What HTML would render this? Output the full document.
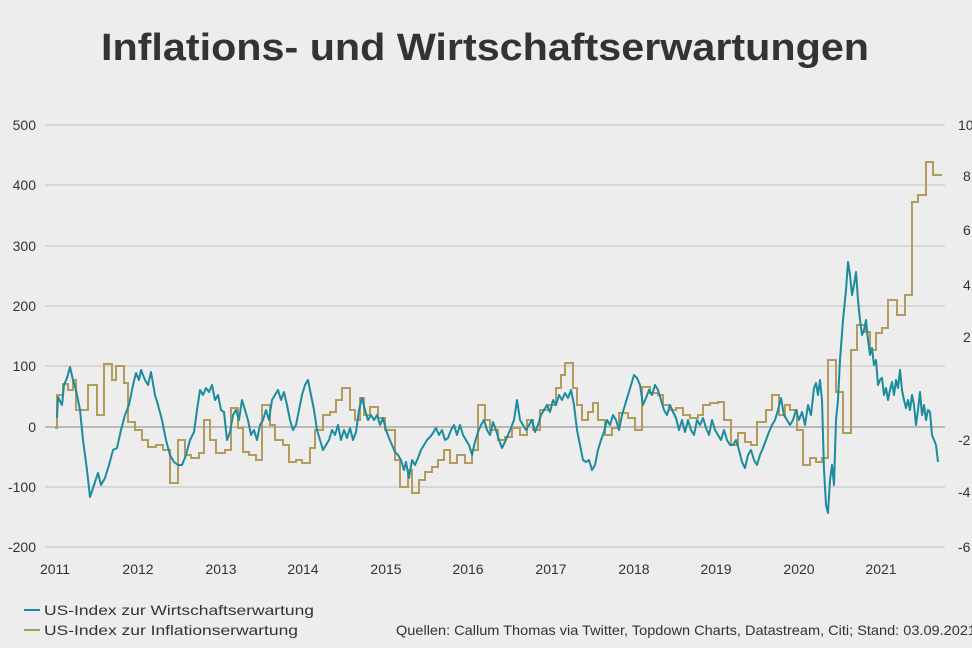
<!DOCTYPE html>
<html><head><meta charset="utf-8"><style>
html,body{margin:0;padding:0;background:#ededed;}
svg{display:block;font-family:"Liberation Sans",sans-serif;}
</style></head><body>
<svg width="972" height="648" viewBox="0 0 972 648" xmlns="http://www.w3.org/2000/svg">
<rect width="972" height="648" fill="#ededed"/>
<text x="485" y="60" text-anchor="middle" font-size="38" font-weight="bold" fill="#333" textLength="768" lengthAdjust="spacingAndGlyphs">Inflations- und Wirtschaftserwartungen</text>
<g stroke="#c9c9c9" stroke-width="1.2">
<line x1="45" y1="125" x2="945" y2="125"/><line x1="45" y1="185" x2="945" y2="185"/>
<line x1="45" y1="246" x2="945" y2="246"/><line x1="45" y1="306" x2="945" y2="306"/>
<line x1="45" y1="366" x2="945" y2="366"/><line x1="45" y1="487" x2="945" y2="487"/>
<line x1="45" y1="547" x2="945" y2="547"/>
</g>
<line x1="45" y1="427" x2="945" y2="427" stroke="#9a9a9a" stroke-width="1.3"/>
<g font-size="14" fill="#333" text-anchor="end">
<text x="36" y="130">500</text><text x="36" y="190">400</text><text x="36" y="251">300</text>
<text x="36" y="311">200</text><text x="36" y="371">100</text><text x="36" y="432">0</text>
<text x="36" y="492">-100</text><text x="36" y="552">-200</text>
</g>
<g font-size="14" fill="#333">
<text x="958" y="130">10</text><text x="963" y="181">8</text><text x="963" y="235">6</text>
<text x="963" y="290">4</text><text x="963" y="342">2</text><text x="958" y="445">-2</text>
<text x="958" y="497">-4</text><text x="958" y="552">-6</text>
</g>
<g font-size="14" fill="#333" text-anchor="middle">
<text x="55" y="574">2011</text><text x="138" y="574">2012</text><text x="221" y="574">2013</text>
<text x="303" y="574">2014</text><text x="386" y="574">2015</text><text x="468" y="574">2016</text>
<text x="551" y="574">2017</text><text x="634" y="574">2018</text><text x="716" y="574">2019</text>
<text x="799" y="574">2020</text><text x="881" y="574">2021</text>
</g>
<path fill="none" stroke="#b39b5c" stroke-width="2" d="M55,428 H57 V395 H63 V384 H68 V390 H73 V380 H76 V410 H88 V385 H97 V415 H104 V364 H112 V380 H116 V366 H124 V383 H128 V422 H135 V430 H142 V440 H148 V447 H156 V445 H163 V450 H170 V483 H178 V440 H185 V455 H191 V458 H199 V453 H204 V420 H210 V440 H216 V453 H225 V450 H231 V408 H238 V428 H243 V452 H249 V455 H256 V460 H262 V405 H270 V425 H275 V440 H283 V445 H289 V462 H296 V460 H302 V463 H310 V448 H315 V430 H323 V415 H330 V412 H336 V400 H342 V388 H350 V410 H355 V420 H360 V398 H364 V415 H370 V407 H378 V418 H385 V430 H395 V460 H400 V487 H408 V470 H412 V493 H419 V480 H425 V472 H432 V467 H438 V460 H444 V450 H450 V463 H457 V455 H465 V463 H472 V450 H478 V405 H485 V420 H490 V430 H498 V440 H505 V437 H512 V428 H520 V435 H527 V420 H533 V430 H540 V410 H548 V405 H556 V388 H561 V375 H565 V363 H573 V388 H577 V405 H582 V420 H588 V412 H593 V403 H598 V420 H605 V435 H612 V428 H619 V413 H628 V418 H635 V430 H642 V387 H650 V393 H658 V395 H663 V405 H669 V410 H676 V408 H683 V415 H690 V418 H698 V415 H703 V405 H710 V403 H718 V402 H724 V420 H731 V445 H738 V433 H745 V442 H751 V445 H757 V422 H766 V410 H772 V395 H779 V415 H785 V405 H790 V410 H797 V430 H803 V465 H810 V458 H816 V462 H822 V458 H828 V360 H836 V392 H843 V433 H851 V350 H857 V325 H865 V332 H870 V350 H876 V333 H882 V328 H888 V300 H897 V315 H905 V295 H912 V202 H918 V195 H926 V162 H933 V175 H942"/>
<polyline fill="none" stroke="#1b8c9e" stroke-width="2" stroke-linejoin="round" points="57,418 58,397 62,405 64,385 67,378 70,367 73,380 76,390 80,410 83,440 87,470 90,497 94,485 98,473 101,485 105,478 109,465 113,450 117,448 121,430 125,415 129,405 133,385 136,373 139,380 141,370 145,380 148,385 151,372 155,395 158,405 162,420 166,440 170,455 174,462 178,465 182,465 186,455 190,440 194,432 197,410 200,390 203,395 206,388 209,392 212,385 215,400 218,395 221,410 224,412 227,440 230,432 233,415 236,410 239,420 242,400 245,410 248,420 251,435 254,430 257,440 260,425 263,420 266,410 269,420 272,400 275,395 278,390 281,400 284,392 287,405 290,420 293,430 296,425 299,410 302,395 305,385 308,380 311,395 314,410 317,430 320,440 323,450 326,445 329,440 332,430 335,435 338,425 341,440 344,430 347,438 350,428 353,440 356,432 359,410 362,398 365,410 368,420 371,415 374,420 377,415 380,425 383,418 386,430 389,438 392,445 395,452 398,455 401,460 404,470 406,462 409,478 412,460 415,465 418,458 421,450 424,445 427,440 430,437 433,433 436,428 439,435 442,430 445,440 448,438 451,430 454,425 457,435 460,425 463,435 466,440 469,445 472,455 475,442 478,432 481,425 484,420 487,430 490,435 493,422 496,430 499,440 502,448 505,442 508,435 511,428 514,420 517,400 520,420 523,425 526,430 529,425 532,420 535,432 538,425 541,415 544,410 547,405 550,412 553,400 556,405 559,395 562,400 565,393 568,398 571,390 574,405 577,430 580,445 583,460 586,462 589,460 592,470 595,465 598,450 601,440 604,432 607,420 610,425 613,415 616,420 619,430 622,415 625,405 628,395 631,385 634,375 637,378 640,385 643,405 646,398 649,390 652,395 655,385 658,390 661,400 664,410 667,415 670,405 673,412 676,418 679,430 682,420 685,432 688,420 691,430 694,435 697,420 700,425 703,418 706,428 709,435 712,420 715,430 718,435 721,440 724,430 727,440 730,445 733,445 736,440 739,450 742,462 745,468 748,455 751,450 754,460 757,465 760,455 763,448 766,440 769,432 772,425 775,420 778,410 781,398 784,415 787,420 790,425 793,420 796,410 799,420 802,412 805,425 808,405 811,415 814,388 816,383 818,395 820,380 822,400 824,470 826,505 828,513 830,480 832,465 834,485 836,420 838,400 840,360 843,320 846,290 848,262 850,275 852,295 854,285 856,272 858,300 860,320 862,335 864,330 866,320 868,340 870,355 872,348 874,365 876,360 878,385 880,380 882,378 884,395 886,388 888,400 890,390 892,382 894,395 896,380 898,388 900,370 902,390 904,400 906,408 908,400 910,410 912,395 914,405 916,425 918,410 920,392 922,415 924,405 926,420 928,410 930,412 932,435 934,440 936,445 938,462"/>
<line x1="24" y1="610" x2="40" y2="610" stroke="#1b8c9e" stroke-width="2"/>
<line x1="24" y1="630" x2="40" y2="630" stroke="#b39b5c" stroke-width="2"/>
<g font-size="14" fill="#333">
<text x="44" y="615" textLength="270" lengthAdjust="spacingAndGlyphs">US-Index zur Wirtschaftserwartung</text>
<text x="44" y="635" textLength="254" lengthAdjust="spacingAndGlyphs">US-Index zur Inflationserwartung</text>
<text x="396" y="635" textLength="580" lengthAdjust="spacingAndGlyphs">Quellen: Callum Thomas via Twitter, Topdown Charts, Datastream, Citi; Stand: 03.09.2021</text>
</g>
</svg>
</body></html>
